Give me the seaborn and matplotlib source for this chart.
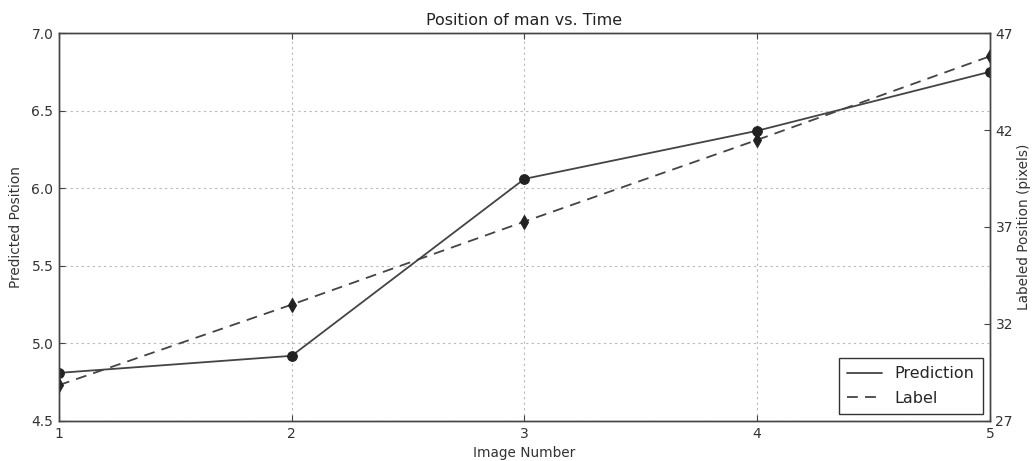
import seaborn as sns
import pandas as pd
import numpy as np
import matplotlib.pyplot as plt
from matplotlib.lines import Line2D
from matplotlib.ticker import FormatStrFormatter

# values
image_number = [1, 2, 3, 4, 5]
prediction = [4.81, 4.92, 6.06, 6.37, 6.75]
label_pos = [28.85, 33.0, 37.28, 41.49, 45.8]

line_col = '#444444'
mark_col = '#222222'

sns.set_theme(style="white")
plt.rcParams['font.family'] = ['DejaVu Sans']
plt.rcParams['axes.edgecolor'] = '#444444'
plt.rcParams['axes.linewidth'] = 1.0

fig = plt.figure(figsize=(10.32, 4.61), dpi=100)
ax = fig.add_axes([0.0572, 0.0868, 0.902, 0.8416])

sns.lineplot(x=image_number, y=prediction, ax=ax, color=line_col, linewidth=1.3,
             marker='o', markersize=7, markeredgecolor=mark_col, markerfacecolor=mark_col)
ax2 = ax.twinx()
sns.lineplot(x=image_number, y=label_pos, ax=ax2, color=line_col, linewidth=1.3,
             linestyle=(0, (6, 4)), marker='d', markersize=7,
             markeredgecolor=mark_col, markerfacecolor=mark_col)

ax.set_xlim(1, 5)
ax.set_ylim(4.5, 7.0)
ax.set_xticks(image_number)
ax.set_yticks(np.arange(4.5, 7.01, 0.5))
ax.yaxis.set_major_formatter(FormatStrFormatter('%.1f'))
ax2.set_ylim(27, 47)
ax2.set_yticks([27, 32, 37, 42, 47])

ax.grid(True, linestyle=(0, (2, 3)), color='#b8b8b8', linewidth=0.8)
ax.tick_params(direction='in', length=4, width=0.8, colors='#444444', labelcolor='#333333',
               labelsize=10, pad=4, top=True, left=True, bottom=True)
ax2.tick_params(direction='in', length=4, width=0.8, colors='#444444', labelcolor='#333333',
                labelsize=10, pad=4, right=True)

ax.set_title('Position of man vs. Time', fontsize=11.5, color='#222222', pad=6)
ax.set_xlabel('Image Number', fontsize=9.8, color='#333333', labelpad=4)
ax.set_ylabel('Predicted Position', fontsize=9.8, color='#333333', labelpad=6)
ax2.set_ylabel('Labeled Position (pixels)', fontsize=9.8, color='#333333', labelpad=3)

handles = [Line2D([], [], color=line_col, linewidth=1.3),
           Line2D([], [], color=line_col, linewidth=1.3, linestyle=(0, (6, 4)))]
leg = ax2.legend(handles, ['Prediction', 'Label'], loc='lower right', fontsize=11.5,
                 fancybox=False, framealpha=1, edgecolor='#333333', handlelength=2.2,
                 labelspacing=0.6, borderpad=0.5, borderaxespad=0.45)
leg.get_frame().set_linewidth(1.0)

fig.savefig('out.png', dpi=100)
